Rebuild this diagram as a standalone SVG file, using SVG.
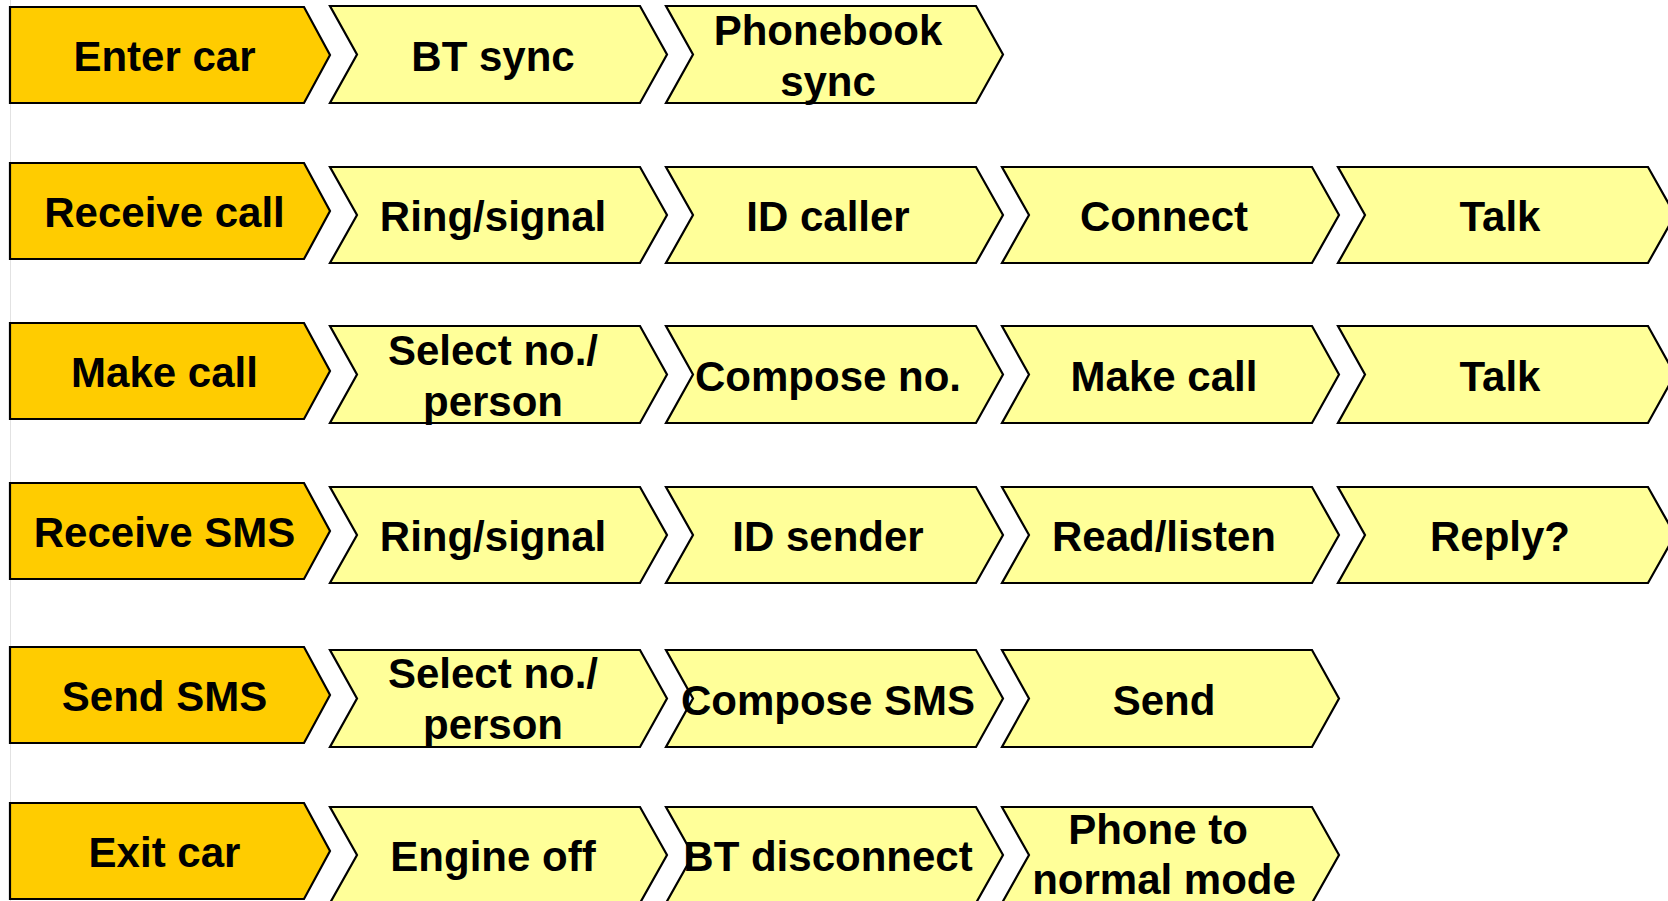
<svg xmlns="http://www.w3.org/2000/svg" width="1668" height="901" viewBox="0 0 1668 901">
<style>
.o{fill:#FFCC00;stroke:#000;stroke-width:2.2;stroke-linejoin:miter}
.y{fill:#FFFF99;stroke:#000;stroke-width:2.2;stroke-linejoin:miter}
text{font-family:"Liberation Sans",Arial,sans-serif;font-weight:bold;font-size:42px;fill:#000;text-anchor:middle}
</style>
<rect width="1668" height="901" fill="#fff"/>
<line x1="10.5" y1="0" x2="10.5" y2="901" stroke="#e2e2e2" stroke-width="1"/>
<g id="connectors"></g>

<!-- Row 0 -->
<g id="enter-car"><polygon class="o" points="10,7 304,7 330,55 304,103 10,103"/><text x="164.5" y="71">Enter car</text></g>
<g id="bt-sync"><polygon class="y" points="330,6 640,6 667,54.5 640,103 330,103 357,54.5"/><text x="493" y="70.5">BT sync</text></g>
<g id="phonebook-sync"><polygon class="y" points="666,6 976,6 1003,54.5 976,103 666,103 693,54.5"/><text x="828" y="45">Phonebook</text><text x="828" y="96">sync</text></g>

<!-- Row 1 -->
<g id="receive-call"><polygon class="o" points="10,163 304,163 330,211 304,259 10,259"/><text x="164.5" y="227">Receive call</text></g>
<g id="ring-signal-1"><polygon class="y" points="330,167 640,167 667,215 640,263 330,263 357,215"/><text x="493" y="231">Ring/signal</text></g>
<g id="id-caller"><polygon class="y" points="666,167 976,167 1003,215 976,263 666,263 693,215"/><text x="828" y="231">ID caller</text></g>
<g id="connect"><polygon class="y" points="1002,167 1312,167 1339,215 1312,263 1002,263 1029,215"/><text x="1164" y="231">Connect</text></g>
<g id="talk-1"><polygon class="y" points="1338,167 1648,167 1675,215 1648,263 1338,263 1365,215"/><text x="1500" y="231">Talk</text></g>

<!-- Row 2 -->
<g id="make-call"><polygon class="o" points="10,323 304,323 330,371 304,419 10,419"/><text x="164.5" y="387">Make call</text></g>
<g id="select-no-1"><polygon class="y" points="330,326 640,326 667,374.5 640,423 330,423 357,374.5"/><text x="493" y="365">Select no./</text><text x="493" y="416">person</text></g>
<g id="compose-no"><polygon class="y" points="666,326 976,326 1003,374.5 976,423 666,423 693,374.5"/><text x="828" y="390.5">Compose no.</text></g>
<g id="make-call-2"><polygon class="y" points="1002,326 1312,326 1339,374.5 1312,423 1002,423 1029,374.5"/><text x="1164" y="390.5">Make call</text></g>
<g id="talk-2"><polygon class="y" points="1338,326 1648,326 1675,374.5 1648,423 1338,423 1365,374.5"/><text x="1500" y="390.5">Talk</text></g>

<!-- Row 3 -->
<g id="receive-sms"><polygon class="o" points="10,483 304,483 330,531 304,579 10,579"/><text x="164.5" y="547">Receive SMS</text></g>
<g id="ring-signal-2"><polygon class="y" points="330,487 640,487 667,535 640,583 330,583 357,535"/><text x="493" y="551">Ring/signal</text></g>
<g id="id-sender"><polygon class="y" points="666,487 976,487 1003,535 976,583 666,583 693,535"/><text x="828" y="551">ID sender</text></g>
<g id="read-listen"><polygon class="y" points="1002,487 1312,487 1339,535 1312,583 1002,583 1029,535"/><text x="1164" y="551">Read/listen</text></g>
<g id="reply"><polygon class="y" points="1338,487 1648,487 1675,535 1648,583 1338,583 1365,535"/><text x="1500" y="551">Reply?</text></g>

<!-- Row 4 -->
<g id="send-sms"><polygon class="o" points="10,647 304,647 330,695 304,743 10,743"/><text x="164.5" y="711">Send SMS</text></g>
<g id="select-no-2"><polygon class="y" points="330,650 640,650 667,698.5 640,747 330,747 357,698.5"/><text x="493" y="688">Select no./</text><text x="493" y="739">person</text></g>
<g id="compose-sms"><polygon class="y" points="666,650 976,650 1003,698.5 976,747 666,747 693,698.5"/><text x="828" y="714.5">Compose SMS</text></g>
<g id="send"><polygon class="y" points="1002,650 1312,650 1339,698.5 1312,747 1002,747 1029,698.5"/><text x="1164" y="714.5">Send</text></g>

<!-- Row 5 -->
<g id="exit-car"><polygon class="o" points="10,803 304,803 330,851 304,899 10,899"/><text x="164.5" y="867">Exit car</text></g>
<g id="engine-off"><polygon class="y" points="330,807 640,807 667,855 640,903 330,903 357,855"/><text x="493" y="871">Engine off</text></g>
<g id="bt-disconnect"><polygon class="y" points="666,807 976,807 1003,855 976,903 666,903 693,855"/><text x="828" y="871">BT disconnect</text></g>
<g id="phone-normal"><polygon class="y" points="1002,807 1312,807 1339,855 1312,903 1002,903 1029,855"/><text x="1158" y="844">Phone to</text><text x="1164" y="894">normal mode</text></g>
</svg>
